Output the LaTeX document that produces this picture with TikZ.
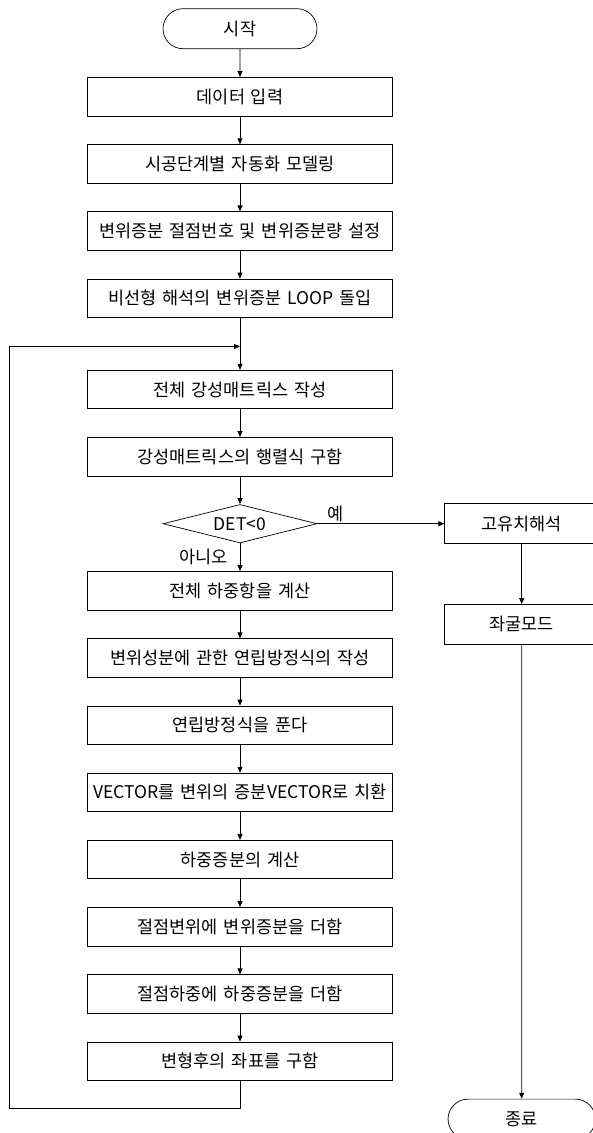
\documentclass[tikz,border=0pt]{standalone}
\usepackage{fontspec}
\newfontfamily\kor[WordSpace=1.5]{Noto Sans CJK KR}
\usetikzlibrary{matrix,positioning,calc,arrows.meta,shapes.geometric,shapes.misc}

\tikzset{
    procbox/.style={draw, rectangle, minimum width=305pt, minimum height=38.5pt},
    term/.style={draw, rounded rectangle, minimum width=154pt, minimum height=40pt},
    decide/.style={draw, diamond, aspect=4, inner sep=0pt, minimum width=154pt, minimum height=38.5pt},
    sidebox/.style={draw, rectangle, minimum width=154pt, minimum height=40pt},
}

\begin{document}
\begin{tikzpicture}[line width=0.7pt, font=\kor\fontsize{17.5}{19}\selectfont,
    >={Triangle[length=6pt,width=5pt]}]
                \useasboundingbox (0pt,0pt) rectangle (593pt,-1133pt);
                \matrix (m) [matrix of nodes,
                    row sep=28pt, inner sep=0pt, anchor=north,
                    nodes={procbox, anchor=center}] at (240pt,-8pt)
                {
                    |[term]| 시작 \\
                    데이터 입력 \\
                    시공단계별 자동화 모델링 \\
                    변위증분 절점번호 및 변위증분량 설정 \\
                    비선형 해석의 변위증분 LOOP 돌입 \\[24pt]
                    전체 강성매트릭스 작성 \\
                    강성매트릭스의 행렬식 구함 \\
                    |[decide]| DET<0 \\
                    전체 하중항을 계산 \\
                    변위성분에 관한 연립방정식의 작성 \\
                    연립방정식을 푼다 \\
                    VECTOR를 변위의 증분VECTOR로 치환 \\
                    하중증분의 계산 \\
                    절점변위에 변위증분을 더함 \\
                    절점하중에 하중증분을 더함 \\
                    변형후의 좌표를 구함 \\
                };
                \node[sidebox, right=127pt of m-8-1] (eig) {고유치해석};
                \node[sidebox, below=60pt of eig] (buckle) {좌굴모드};
                \node[term, below=454pt of buckle] (fin) {종료};
                \coordinate (join) at ($(m-5-1.south)!0.55!(m-6-1.north)$);
                \path[->]
                (m-1-1) edge (m-2-1)
                (m-2-1) edge (m-3-1)
                (m-3-1) edge (m-4-1)
                (m-4-1) edge (m-5-1)
                (m-5-1) edge (m-6-1)
                (m-6-1) edge (m-7-1)
                (m-7-1) edge (m-8-1)
                (m-8-1) edge node[left, xshift=-9pt] {아니오} (m-9-1)
                        edge node[above, pos=0.14, inner sep=1pt] {예} (eig)
                (m-9-1) edge (m-10-1)
                (m-10-1) edge (m-11-1)
                (m-11-1) edge (m-12-1)
                (m-12-1) edge (m-13-1)
                (m-13-1) edge (m-14-1)
                (m-14-1) edge (m-15-1)
                (m-15-1) edge (m-16-1)
                (eig) edge (buckle)
                (buckle) edge (fin);
                \draw[->] (m-16-1.south) -- ++(0pt,-27.5pt) -| ([xshift=-230.5pt]join) -- (join);
            \end{tikzpicture}
\end{document}
